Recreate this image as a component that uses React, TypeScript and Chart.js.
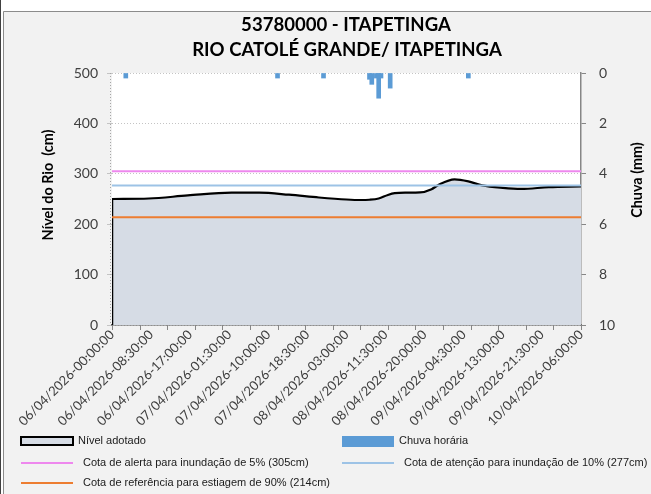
import React, { useEffect, useRef } from "react";
import { Chart, registerables } from "chart.js";

Chart.register(...registerables);

// ---------- DATA ----------
const titleLines = ["53780000 - ITAPETINGA", "RIO CATOLÉ GRANDE/ ITAPETINGA"];
const yLeftTitle = "Nível do Rio  (cm)";
const yRightTitle = "Chuva (mm)";

// hours since 06/04/2026 00:00
const levelHours = [0, 8, 16.5, 26, 32, 38.5, 45, 51, 54, 56, 58, 60, 61.5, 64, 67, 69.5, 71, 74.5, 77.5, 80.5, 85, 89, 95, 102];
const levelCm = [250, 251, 257, 262.5, 262.5, 258.5, 253, 249, 248, 248.5, 251, 258, 261.5, 262.5, 263, 269.5, 278, 289, 285, 277, 272, 270, 273.5, 275];

const rainHours = [3, 36, 46, 56, 56.5, 57.5, 58, 58.5, 60.5, 77.5];
const rainMm = [0.2, 0.2, 0.2, 0.25, 0.45, 0.2, 1.0, 0.2, 0.6, 0.2];

const alertCm = 305;
const attentionCm = 277;
const droughtCm = 214;

const xStartHour = 0;
const xEndHour = 102;
const xTickHours = [0, 8.5, 17, 25.5, 34, 42.5, 51, 59.5, 68, 76.5, 85, 93.5, 102];
const xTickLabels = [
  "06/04/2026-00:00:00",
  "06/04/2026-08:30:00",
  "06/04/2026-17:00:00",
  "07/04/2026-01:30:00",
  "07/04/2026-10:00:00",
  "07/04/2026-18:30:00",
  "08/04/2026-03:00:00",
  "08/04/2026-11:30:00",
  "08/04/2026-20:00:00",
  "09/04/2026-04:30:00",
  "09/04/2026-13:00:00",
  "09/04/2026-21:30:00",
  "10/04/2026-06:00:00",
];
const xMinorTickHours = [0, 6, 12, 18, 24, 30, 36, 42, 48, 54, 60, 66, 72, 78, 84, 90, 96, 102];

const legendLabels = [
  "Nível adotado",
  "Chuva horária",
  "Cota de alerta para inundação de 5% (305cm)",
  "Cota de atenção para inundação de 10% (277cm)",
  "Cota de referência para estiagem de 90% (214cm)",
];

// ---------- STYLE ----------
const C_FILL = "#d6dce5";
const C_RAIN = "#5b9bd5";
const C_ALERT = "#ee88ee";
const C_ATTN = "#9dc3e6";
const C_DROUGHT = "#ed7d31";
const FONT = "Lato, 'Liberation Sans', sans-serif";

function fitFont(ctx: CanvasRenderingContext2D, text: string, weight: string, base: number, target: number) {
  ctx.font = `${weight} ${base}px ${FONT}`;
  const w = ctx.measureText(text).width;
  return (base * target) / w;
}

const decorPlugin = {
  id: "decor",
  beforeDraw(chart: any) {
    const { ctx, chartArea } = chart;
    ctx.save();
    ctx.fillStyle = "#ffffff";
    ctx.fillRect(0, 0, chart.width, chart.height);
    ctx.fillStyle = "#f2f2f2";
    ctx.fillRect(3, 11, chart.width - 3, chart.height - 11);
    ctx.strokeStyle = "#8c8c8c";
    ctx.lineWidth = 1;
    ctx.beginPath();
    ctx.moveTo(3.5, chart.height);
    ctx.lineTo(3.5, 11.5);
    ctx.lineTo(chart.width, 11.5);
    ctx.stroke();
    ctx.strokeStyle = "#404040";
    ctx.beginPath();
    ctx.moveTo(0.5, 0);
    ctx.lineTo(0.5, chart.height);
    ctx.stroke();
    ctx.fillStyle = "#ffffff";
    ctx.fillRect(chartArea.left, chartArea.top, chartArea.right - chartArea.left, chartArea.bottom - chartArea.top);
    ctx.restore();
  },
  afterDraw(chart: any) {
    const { ctx, chartArea, scales } = chart;
    ctx.save();
    // titles
    const ts = fitFont(ctx, titleLines[1], "bold", 20, 310);
    ctx.font = `bold ${ts}px ${FONT}`;
    ctx.fillStyle = "#000";
    ctx.textAlign = "center";
    ctx.textBaseline = "middle";
    ctx.fillText(titleLines[0], 346, 25);
    ctx.fillText(titleLines[1], 347, 50);

    // axis titles
    const as = fitFont(ctx, yLeftTitle, "bold", 15, 111);
    ctx.font = `bold ${as}px ${FONT}`;
    ctx.save();
    ctx.translate(48, 185);
    ctx.rotate(-Math.PI / 2);
    ctx.fillText(yLeftTitle, 0, 0);
    ctx.restore();
    ctx.save();
    ctx.translate(637, 180);
    ctx.rotate(-Math.PI / 2);
    ctx.fillText(yRightTitle, 0, 0);
    ctx.restore();

    // dotted left axis line
    ctx.strokeStyle = "#a6a6a6";
    ctx.lineWidth = 1;
    ctx.setLineDash([1, 2]);
    ctx.beginPath();
    ctx.moveTo(chartArea.left - 1.5, chartArea.top);
    ctx.lineTo(chartArea.left - 1.5, chartArea.bottom);
    ctx.stroke();
    ctx.setLineDash([]);

    // minor x ticks
    const xs = scales.x;
    ctx.strokeStyle = "#868686";
    ctx.lineWidth = 1;
    ctx.beginPath();
    xMinorTickHours.forEach((h) => {
      const px = Math.round(xs.getPixelForValue(h)) + 0.5;
      ctx.moveTo(px, chartArea.bottom);
      ctx.lineTo(px, chartArea.bottom + 5);
    });
    ctx.stroke();

    // legend
    ctx.font = `11px 'Liberation Sans', Arial, sans-serif`;
    ctx.textAlign = "left";
    ctx.textBaseline = "middle";
    ctx.fillStyle = C_FILL;
    ctx.fillRect(21, 437, 52, 8);
    ctx.strokeStyle = "#000";
    ctx.lineWidth = 2;
    ctx.strokeRect(21, 437, 52, 8);
    ctx.fillStyle = C_RAIN;
    ctx.fillRect(342, 436, 52, 11);
    ctx.fillStyle = "#1a1a1a";
    ctx.fillText(legendLabels[0], 78, 441);
    ctx.fillText(legendLabels[1], 399, 441);
    const lineSw = (y: number, x: number, color: string) => {
      ctx.strokeStyle = color;
      ctx.lineWidth = 2;
      ctx.beginPath();
      ctx.moveTo(x, y);
      ctx.lineTo(x + 52, y);
      ctx.stroke();
    };
    lineSw(463, 21, C_ALERT);
    lineSw(463, 342, C_ATTN);
    lineSw(483, 21, C_DROUGHT);
    ctx.fillStyle = "#1a1a1a";
    ctx.fillText(legendLabels[2], 83, 463);
    ctx.fillText(legendLabels[3], 404, 463);
    ctx.fillText(legendLabels[4], 83, 483);
    ctx.restore();
  },
};

export default function App() {
  const ref = useRef<HTMLCanvasElement | null>(null);
  useEffect(() => {
    if (!ref.current) return;
    const levelData = levelHours.map((h, i) => ({ x: h, y: levelCm[i] }));
    const rainData = rainHours.map((h, i) => ({ x: h, y: rainMm[i] }));
    const hline = (v: number) => [
      { x: xStartHour, y: v },
      { x: xEndHour, y: v },
    ];
    const chart = new Chart(ref.current, {
      type: "line",
      data: {
        datasets: [
          {
            type: "bar",
            label: legendLabels[1],
            data: rainData as any,
            yAxisID: "y2",
            xAxisID: "x",
            backgroundColor: C_RAIN,
            borderWidth: 0,
            barThickness: 4,
            order: 0,
          } as any,
          {
            label: legendLabels[2],
            data: hline(alertCm),
            borderColor: C_ALERT,
            borderWidth: 2,
            pointRadius: 0,
            fill: false,
            yAxisID: "y",
            order: 1,
          },
          {
            label: legendLabels[3],
            data: hline(attentionCm),
            borderColor: C_ATTN,
            borderWidth: 2,
            pointRadius: 0,
            fill: false,
            yAxisID: "y",
            order: 2,
          },
          {
            label: legendLabels[4],
            data: hline(droughtCm),
            borderColor: C_DROUGHT,
            borderWidth: 2,
            pointRadius: 0,
            fill: false,
            yAxisID: "y",
            order: 3,
          },
          {
            label: "edge",
            data: [
              { x: levelHours[0], y: 0 },
              { x: levelHours[0], y: levelCm[0] },
            ],
            borderColor: "#000",
            borderWidth: 2.5,
            pointRadius: 0,
            fill: false,
            yAxisID: "y",
            order: 4,
          },
          {
            label: legendLabels[0],
            data: levelData,
            borderColor: "#000",
            borderWidth: 2.2,
            backgroundColor: C_FILL,
            pointRadius: 0,
            fill: "origin",
            cubicInterpolationMode: "monotone",
            yAxisID: "y",
            order: 5,
          },
        ],
      },
      options: {
        animation: false,
        responsive: false,
        devicePixelRatio: 1,
        layout: { padding: { top: 73, left: 0, right: 0, bottom: 0 } },
        plugins: {
          legend: { display: false },
          title: { display: false },
          tooltip: { enabled: false },
        },
        scales: {
          x: {
            type: "linear",
            min: xStartHour,
            max: xEndHour,
            offset: false,
            afterBuildTicks: (s: any) => {
              s.ticks = xTickHours.map((v) => ({ value: v }));
            },
            afterFit: (s: any) => {
              s.height = 169;
            },
            ticks: {
              autoSkip: false,
              minRotation: 45,
              maxRotation: 45,
              padding: 2,
              color: "#404040",
              font: { family: FONT, size: 13 },
              callback: (_v: any, i: number) => xTickLabels[i],
            },
            grid: { drawOnChartArea: false, drawTicks: false, color: "#868686" },
            border: { color: "#595959", width: 1.5 },
          },
          y: {
            position: "left",
            min: 0,
            max: 500,
            afterFit: (s: any) => {
              s.width = 112;
            },
            ticks: {
              stepSize: 100,
              padding: 9,
              color: "#404040",
              font: { family: FONT, size: 14 },
            },
            grid: { color: "#c4c4c4", tickLength: 5, lineWidth: 1 },
            border: { display: false, dash: [1, 2] },
          },
          y2: {
            position: "right",
            reverse: true,
            min: 0,
            max: 10,
            afterFit: (s: any) => {
              s.width = 70;
            },
            ticks: {
              stepSize: 2,
              padding: 13,
              color: "#404040",
              font: { family: FONT, size: 14 },
            },
            grid: { drawOnChartArea: false, tickLength: 5, color: "#868686" },
            border: { color: "#868686", width: 1.5 },
          },
        },
      },
      plugins: [decorPlugin],
    } as any);
    return () => chart.destroy();
  }, []);
  return (
    <div style={{ position: "absolute", left: 0, top: 0, width: 651, height: 494 }}>
      <canvas ref={ref} width={651} height={494} style={{ display: "block", width: 651, height: 494 }} />
    </div>
  );
}
